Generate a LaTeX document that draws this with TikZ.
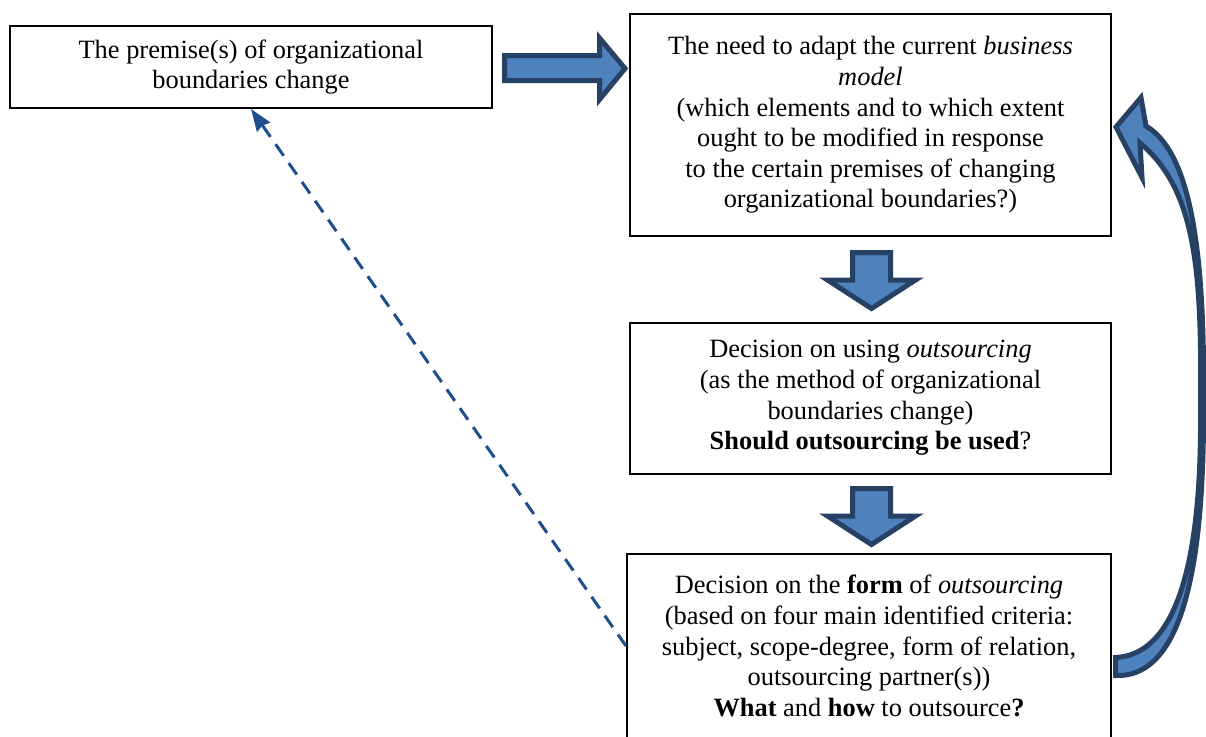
\documentclass[tikz,border=0pt]{standalone}
\usepackage{fontspec}
\setmainfont{Liberation Serif}
\usetikzlibrary{arrows.meta}

\definecolor{arrowfill}{RGB}{79,129,189}
\definecolor{arrowline}{RGB}{38,65,100}
\definecolor{dashblue}{RGB}{31,78,140}

\begin{document}
\begin{tikzpicture}[x=0.5pt, y=-0.5pt,
    box/.style={draw, line width=1pt, align=center, inner sep=0pt,
      font=\fontsize{13.2pt}{15.3pt}\selectfont},
    fatarrow/.style={draw=arrowline, fill=arrowfill, line width=2.5pt, line join=miter},
    dasharrow/.style={dashblue, line width=1.5pt, dash pattern=on 7pt off 4.5pt,
      -{Stealth[length=11pt, width=8pt, inset=1pt]}}]
    \useasboundingbox (0,0) rectangle (1206,736);

    \node[box, minimum width=241pt, minimum height=41pt] (premise) at (251,67)
      {The premise(s) of organizational\\ boundaries change};
    \node[box, minimum width=240.5pt, minimum height=111pt] (adapt) at (870.5,125)
      {The need to adapt the current \textit{business}\\ \textit{model}\\
       (which elements and to which extent\\ ought to be modified in response\\
       to the certain premises of changing\\ organizational boundaries?)};
    \node[box, minimum width=240.5pt, minimum height=75.5pt] (decide) at (870.5,398)
      {Decision on using \textit{outsourcing}\\ (as the method of organizational\\
       boundaries change)\\ \textbf{Should outsourcing be used}?};
    \node[box, minimum width=242pt, minimum height=92pt] (form) at (869,646)
      {Decision on the \textbf{form} of \textit{outsourcing}\\
       (based on four main identified criteria:\\ subject, scope-degree, form of relation,\\
       outsourcing partner(s))\\ \textbf{What} and \textbf{how} to outsource\textbf{?}};

    % Draw the block arrows
    \draw[fatarrow] (504.5,55.5) -- (599.5,55.5) -- (599.5,38) -- (625,68.5)
      -- (599.5,99.5) -- (599.5,80.5) -- (504.5,80.5) -- cycle;
    \draw[fatarrow] (852.5,252.5) -- (890.5,252.5) -- (890.5,280) -- (915.5,280)
      -- (871.5,308.5) -- (827.5,280) -- (852.5,280) -- cycle;
    \draw[fatarrow] (852.5,488.5) -- (890.5,488.5) -- (890.5,516) -- (915.5,516)
      -- (871.5,544.5) -- (827.5,516) -- (852.5,516) -- cycle;

    % Draw the curved arrow back to the top
    \draw[fatarrow] (1115.5,657.5) .. controls (1170,655) and (1202,580) .. (1200.5,410)
      .. controls (1202,270) and (1196,190) .. (1140,143)
      -- (1142,177.5) -- (1116,127) -- (1141,97.5) -- (1146,126)
      .. controls (1195,155) and (1205,270) .. (1203.5,410)
      .. controls (1204,590) and (1175,678) .. (1115.5,675.5) -- cycle;

    % Draw the dashed feedback edge
    \draw[dasharrow] (form.west) -- (premise.south);
\end{tikzpicture}
\end{document}
